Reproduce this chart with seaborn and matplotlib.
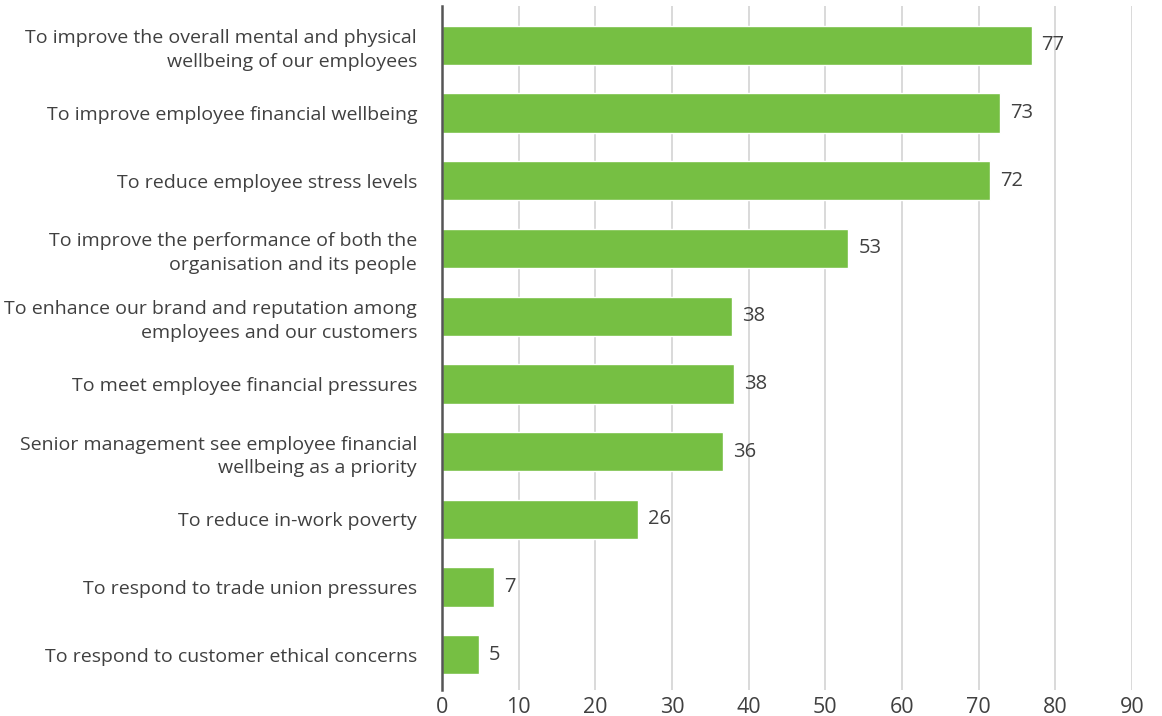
import matplotlib
matplotlib.use("Agg")
import matplotlib.pyplot as plt
import seaborn as sns
import pandas as pd

# Data
reasons = [
    "To improve the overall mental and physical\nwellbeing of our employees",
    "To improve employee financial wellbeing",
    "To reduce employee stress levels",
    "To improve the performance of both the\norganisation and its people",
    "To enhance our brand and reputation among\nemployees and our customers",
    "To meet employee financial pressures",
    "Senior management see employee financial\nwellbeing as a priority",
    "To reduce in-work poverty",
    "To respond to trade union pressures",
    "To respond to customer ethical concerns",
]
values = [76.9, 72.8, 71.5, 53.0, 37.8, 38.1, 36.7, 25.6, 6.8, 4.8]
labels = ["77", "73", "72", "53", "38", "38", "36", "26", "7", "5"]

df = pd.DataFrame({"reason": reasons, "value": values})

sns.set_theme(style="white")
plt.rcParams["font.family"] = ["Open Sans", "DejaVu Sans"]

text_col = "#404040"
green = "#76bf43"

fig = plt.figure(figsize=(11.62, 7.16), dpi=100)
ax = fig.add_axes([0.3804, 0.0363, 0.9742 - 0.3804, 0.9916 - 0.0363])

sns.barplot(data=df, x="value", y="reason", color=green, width=0.58,
            saturation=1, ax=ax, zorder=3)

ax.set_xlim(0, 90)
ax.set_ylim(9.52, -0.58)
ax.set_xticks(range(0, 91, 10))
ax.grid(axis="x", color="#d3d3d3", linewidth=1.2, zorder=0)
ax.set_axisbelow(True)
ax.set_xlabel("")
ax.set_ylabel("")
for s in ["top", "right", "bottom"]:
    ax.spines[s].set_visible(False)
ax.spines["left"].set_color("#555555")
ax.spines["left"].set_linewidth(1.8)
ax.spines["left"].set_zorder(4)
ax.tick_params(axis="both", length=0, labelcolor=text_col)
ax.tick_params(axis="y", pad=18, labelsize=14)
ax.tick_params(axis="x", pad=5, labelsize=15.5)
for t in ax.get_yticklabels():
    t.set_horizontalalignment("right")
    t.set_multialignment("right")
    t.set_linespacing(1.38)

for i, (v, lab) in enumerate(zip(values, labels)):
    ax.text(v + 1.3, i, lab, va="center", ha="left", fontsize=14.5, color=text_col)

fig.savefig("out.png", dpi=100)
